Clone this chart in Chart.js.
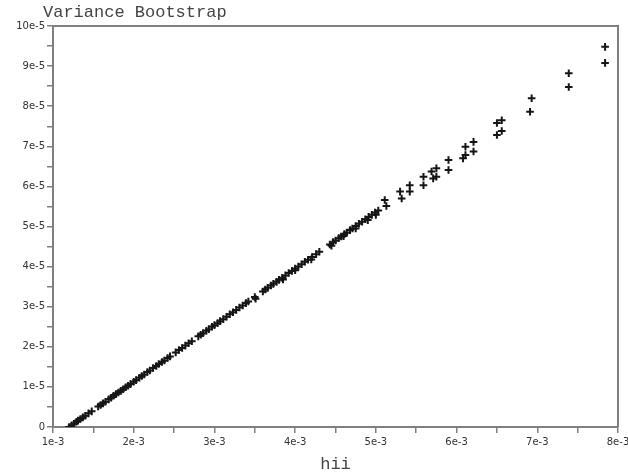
<!DOCTYPE html>
<html>
<head>
<meta charset="utf-8">
<script src="https://cdn.jsdelivr.net/npm/chart.js@4"></script>
<style>
  body { margin: 0; background: #fff; }
  canvas { display: block; }
</style>
</head>
<body>
<canvas id="chart" width="628" height="475"></canvas>
<script>
// hii, in units of 1e-3
const hii = [
    1.20, 1.23, 1.26, 1.29, 1.31, 1.34, 1.37, 1.40, 1.44, 1.48,
    1.56, 1.59, 1.62, 1.65, 1.69, 1.72, 1.75, 1.78, 1.81, 1.84, 1.87, 1.90, 1.93, 1.96,
    2.00, 2.03, 2.07, 2.10, 2.13, 2.17, 2.20, 2.24, 2.28, 2.31, 2.35, 2.38, 2.42, 2.45,
    2.52, 2.56, 2.60, 2.64, 2.68, 2.72,
    2.80, 2.83, 2.86, 2.90, 2.93, 2.97, 3.00, 3.04, 3.07, 3.11, 3.15, 3.19, 3.23, 3.27, 3.31, 3.35, 3.39, 3.42, 3.50, 3.51,
    3.60, 3.63, 3.66, 3.70, 3.73, 3.77, 3.80, 3.84, 3.85, 3.88, 3.92, 3.96, 4.00, 4.00, 4.04, 4.08, 4.12, 4.16, 4.20, 4.21, 4.26, 4.30,
    4.43, 4.45, 4.47, 4.50, 4.54, 4.57, 4.60, 4.61, 4.64, 4.68, 4.71, 4.75, 4.75, 4.79, 4.83, 4.87, 4.90, 4.91, 4.95, 4.99, 5.00, 5.03,
    5.11, 5.13, 5.30, 5.32, 5.42, 5.42, 5.59, 5.59, 5.69, 5.71, 5.75, 5.75, 5.90, 5.90, 6.08, 6.11, 6.11, 6.21, 6.21,
    6.50, 6.56, 6.50, 6.56, 6.91, 6.93, 7.39, 7.39, 7.84, 7.84
];

// bootstrap variance, in units of 1e-5
const varBoot = [
    0.00, 0.04, 0.08, 0.13, 0.16, 0.20, 0.24, 0.28, 0.34, 0.39,
    0.51, 0.55, 0.59, 0.63, 0.69, 0.73, 0.78, 0.82, 0.86, 0.90, 0.94, 0.99, 1.03, 1.07,
    1.13, 1.17, 1.23, 1.27, 1.31, 1.37, 1.41, 1.47, 1.52, 1.57, 1.62, 1.66, 1.72, 1.76,
    1.86, 1.92, 1.97, 2.03, 2.09, 2.14,
    2.26, 2.30, 2.34, 2.40, 2.44, 2.50, 2.54, 2.59, 2.64, 2.69, 2.75, 2.81, 2.86, 2.92, 2.98, 3.03, 3.09, 3.13, 3.24, 3.20,
    3.38, 3.43, 3.47, 3.53, 3.57, 3.62, 3.67, 3.72, 3.68, 3.78, 3.84, 3.89, 3.95, 3.91, 4.00, 4.06, 4.12, 4.17, 4.18, 4.24, 4.31, 4.37,
    4.55, 4.52, 4.61, 4.65, 4.71, 4.75, 4.76, 4.81, 4.85, 4.91, 4.95, 5.01, 4.95, 5.07, 5.12, 5.18, 5.16, 5.24, 5.29, 5.35, 5.29, 5.40,
    5.66, 5.51, 5.87, 5.70, 6.03, 5.87, 6.24, 6.03, 6.37, 6.20, 6.45, 6.24, 6.66, 6.41, 6.70, 6.99, 6.78, 7.11, 6.87,
    7.58, 7.65, 7.28, 7.38, 7.86, 8.20, 8.82, 8.48, 9.48, 9.08
];

const xTickLabels = ['1e-3', '2e-3', '3e-3', '4e-3', '5e-3', '6e-3', '7e-3', '8e-3'];
const yTickLabels = ['0', '1e-5', '2e-5', '3e-5', '4e-5', '5e-5', '6e-5', '7e-5', '8e-5', '9e-5', '10e-5'];

const points = hii.map((h, i) => ({ x: h * 1e-3, y: varBoot[i] * 1e-5 }));

const axisGray = '#808080';

// top/right frame + title text
const framePlugin = {
    id: 'frame',
    afterDraw(chart) {
        const { ctx, chartArea: a } = chart;
        ctx.save();
        ctx.strokeStyle = axisGray;
        ctx.lineWidth = 2;
        ctx.beginPath();
        ctx.moveTo(a.left, a.top);
        ctx.lineTo(a.right, a.top);
        ctx.lineTo(a.right, a.bottom);
        ctx.stroke();
        ctx.font = '17px "Liberation Mono"';
        ctx.fillStyle = '#444';
        ctx.textBaseline = 'middle';
        ctx.fillText('Variance Bootstrap', 43, 12);
        ctx.restore();
    }
};

new Chart(document.getElementById('chart'), {
    type: 'scatter',
    data: {
        datasets: [{
            label: 'Variance Bootstrap',
            data: points,
            pointStyle: 'cross',
            pointRadius: 3.8,
            borderWidth: 2,
            borderColor: '#151515',
            backgroundColor: '#151515'
        }]
    },
    options: {
        responsive: false,
        animation: false,
        layout: { padding: { top: 26, right: 10, left: 0, bottom: 0 } },
        plugins: {
            legend: { display: false },
            tooltip: { enabled: false }
        },
        scales: {
            x: {
                type: 'linear',
                min: 1e-3,
                max: 8e-3,
                afterFit: (scale) => {
                    scale.height = 48;
                    scale.paddingRight = 0;
                    scale.paddingLeft = 0;
                },
                border: { color: axisGray, width: 2 },
                grid: { drawOnChartArea: false, color: axisGray, lineWidth: 1.5, tickLength: 6 },
                ticks: {
                    stepSize: 5e-4,
                    autoSkip: false,
                    maxRotation: 0,
                    padding: 3,
                    color: '#333',
                    font: { family: 'DejaVu Sans', size: 10 },
                    callback: (v, i) => (i % 2 === 0 ? xTickLabels[i / 2] : '')
                },
                title: {
                    display: true,
                    text: 'hii',
                    color: '#444',
                    font: { family: 'Liberation Mono', size: 17 },
                    padding: { top: 0, bottom: 0 }
                }
            },
            y: {
                type: 'linear',
                min: 0,
                max: 1e-4,
                afterFit: (scale) => {
                    scale.width = 53;
                    scale.paddingTop = 0;
                },
                border: { color: axisGray, width: 2 },
                grid: { drawOnChartArea: false, color: axisGray, lineWidth: 1.5, tickLength: 6 },
                ticks: {
                    stepSize: 5e-6,
                    autoSkip: false,
                    padding: 2,
                    color: '#333',
                    font: { family: 'DejaVu Sans', size: 10 },
                    callback: (v, i) => (i % 2 === 0 ? yTickLabels[i / 2] : '')
                }
            }
        }
    },
    plugins: [framePlugin]
});
</script>
</body>
</html>
